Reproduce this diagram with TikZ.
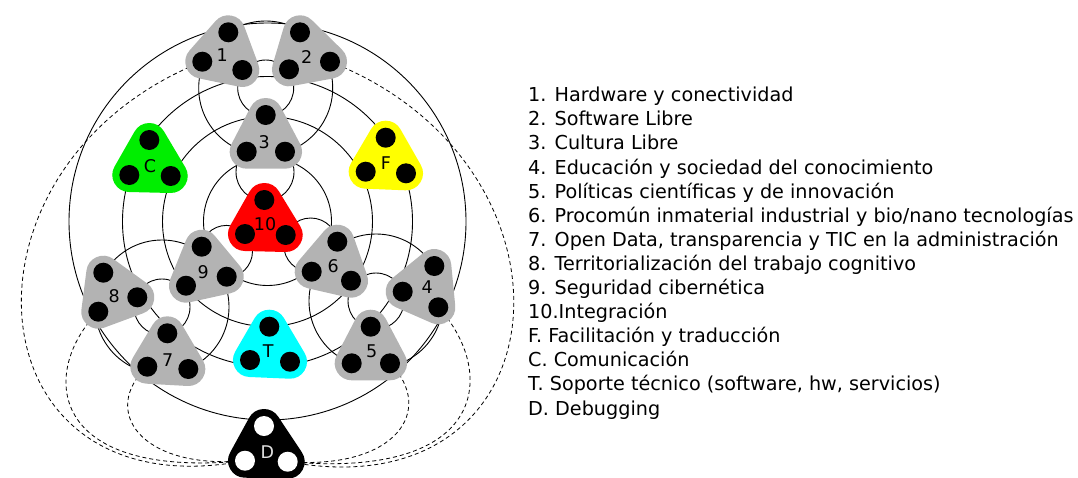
\documentclass[tikz,border=0pt]{standalone}
\usepackage{fontspec}
\setmainfont{DejaVu Sans}
\definecolor{blobgray}{RGB}{179,179,179}
\definecolor{blobgreen}{RGB}{0,238,0}
\definecolor{blobyellow}{RGB}{255,255,0}
\definecolor{blobred}{RGB}{255,0,0}
\definecolor{blobcyan}{RGB}{0,255,255}
\definecolor{palelbl}{RGB}{225,225,225}
\begin{document}
\begin{tikzpicture}[x=1pt, y=-1pt,
        ring/.style={line width=0.9},
        link/.style={line width=0.8, dash pattern=on 4pt off 3pt},
        blob/.style={line width=34, line join=round},
        lbl/.style={inner sep=0, font=\fontsize{17.5}{17.5}\selectfont},
        item/.style={anchor=base west, inner sep=0, font=\fontsize{19.2}{24}\selectfont}]
        \useasboundingbox (0,0) rectangle (1078,477);

        \coordinate (p1a) at (228.3,32.3);
        \coordinate (p1b) at (202.3,61.7);
        \coordinate (p1c) at (242.3,70);
        \coordinate (p2a) at (300,32.3);
        \coordinate (p2b) at (289,69.3);
        \coordinate (p2c) at (330,61.7);
        \coordinate (p3a) at (265.7,115);
        \coordinate (p3b) at (246.7,151.7);
        \coordinate (p3c) at (285,151.7);
        \coordinate (pCa) at (149.3,140);
        \coordinate (pCb) at (129.3,175);
        \coordinate (pCc) at (170.7,176);
        \coordinate (pFa) at (385.7,137.7);
        \coordinate (pFb) at (365.7,171.7);
        \coordinate (pFc) at (406,173.3);
        \coordinate (p10a) at (264.3,200);
        \coordinate (p10b) at (245,234);
        \coordinate (p10c) at (285.7,235);
        \coordinate (p9a) at (201.7,246.7);
        \coordinate (p9b) at (226.7,276.7);
        \coordinate (p9c) at (186,285.7);
        \coordinate (p8a) at (103.3,272.7);
        \coordinate (p8b) at (137.3,297.3);
        \coordinate (p8c) at (98.3,311.7);
        \coordinate (p7a) at (167.3,333.3);
        \coordinate (p7b) at (147.3,366.7);
        \coordinate (p7c) at (188.3,369);
        \coordinate (pTa) at (269.3,326.7);
        \coordinate (pTb) at (250,360);
        \coordinate (pTc) at (290,361.7);
        \coordinate (p6a) at (337.3,241.7);
        \coordinate (p6b) at (311.7,271.7);
        \coordinate (p6c) at (351,280.7);
        \coordinate (p4a) at (434.3,266);
        \coordinate (p4b) at (402.7,291.7);
        \coordinate (p4c) at (438.3,307.3);
        \coordinate (p5a) at (370.7,326.7);
        \coordinate (p5b) at (351.7,363.3);
        \coordinate (p5c) at (390,363.3);
        \coordinate (pDa) at (264,426);
        \coordinate (pDb) at (245,460.7);
        \coordinate (pDc) at (287.7,461.7);

        \coordinate (cmid) at (267.5,221.5);
        \coordinate (ctop) at (265.7,88);
        \coordinate (cleft) at (162,307);
        \coordinate (cright) at (376,301);
        \coordinate (c3) at (265,172);
        \coordinate (c9) at (226.5,251.4);
        \coordinate (c6) at (310.7,245);

        \draw[ring] (cmid) circle[radius=64];
        \draw[ring] (cmid) circle[radius=105];
        \draw[ring] (cmid) circle[radius=145];
        \draw[ring] (cmid) circle[radius=198.5];
        \draw[ring] (ctop) circle[radius=28];
        \draw[ring] (ctop) circle[radius=67];
        \draw[ring] (cleft) circle[radius=28];
        \draw[ring] (cleft) circle[radius=67];
        \draw[ring] (cright) circle[radius=28];
        \draw[ring] (cright) circle[radius=67];
        \draw[ring] (c3) circle[radius=29];
        \draw[ring] (c9) circle[radius=26];
        \draw[ring] (c6) circle[radius=27];

        \draw[link] (p1b) .. controls (-58,165) and (-32,514) .. (pDb);
        \draw[link] (p8c) .. controls (40,370) and (45,480) .. (pDb);
        \draw[link] (p7b) .. controls (100,410) and (140,470) .. (pDb);
        \draw[link] (p2c) .. controls (594,165) and (568,514) .. (pDc);
        \draw[link] (p4c) .. controls (496,370) and (491,480) .. (pDc);
        \draw[link] (p5c) .. controls (436,410) and (396,470) .. (pDc);

        \filldraw[blob, blobgray] (p1a) -- (p1b) -- (p1c) -- cycle;
        \filldraw[blob, blobgray] (p2a) -- (p2b) -- (p2c) -- cycle;
        \filldraw[blob, blobgray] (p3a) -- (p3b) -- (p3c) -- cycle;
        \filldraw[blob, blobgreen] (pCa) -- (pCb) -- (pCc) -- cycle;
        \filldraw[blob, blobyellow] (pFa) -- (pFb) -- (pFc) -- cycle;
        \filldraw[blob, blobred] (p10a) -- (p10b) -- (p10c) -- cycle;
        \filldraw[blob, blobgray] (p9a) -- (p9b) -- (p9c) -- cycle;
        \filldraw[blob, blobgray] (p8a) -- (p8b) -- (p8c) -- cycle;
        \filldraw[blob, blobgray] (p7a) -- (p7b) -- (p7c) -- cycle;
        \filldraw[blob, blobcyan] (pTa) -- (pTb) -- (pTc) -- cycle;
        \filldraw[blob, blobgray] (p6a) -- (p6b) -- (p6c) -- cycle;
        \filldraw[blob, blobgray] (p4a) -- (p4b) -- (p4c) -- cycle;
        \filldraw[blob, blobgray] (p5a) -- (p5b) -- (p5c) -- cycle;
        \filldraw[blob, black] (pDa) -- (pDb) -- (pDc) -- cycle;

        \fill (p1a) circle[radius=10];
        \fill (p1b) circle[radius=10];
        \fill (p1c) circle[radius=10];
        \fill (p2a) circle[radius=10];
        \fill (p2b) circle[radius=10];
        \fill (p2c) circle[radius=10];
        \fill (p3a) circle[radius=10];
        \fill (p3b) circle[radius=10];
        \fill (p3c) circle[radius=10];
        \fill (pCa) circle[radius=10];
        \fill (pCb) circle[radius=10];
        \fill (pCc) circle[radius=10];
        \fill (pFa) circle[radius=10];
        \fill (pFb) circle[radius=10];
        \fill (pFc) circle[radius=10];
        \fill (p10a) circle[radius=10];
        \fill (p10b) circle[radius=10];
        \fill (p10c) circle[radius=10];
        \fill (p9a) circle[radius=10];
        \fill (p9b) circle[radius=10];
        \fill (p9c) circle[radius=10];
        \fill (p8a) circle[radius=10];
        \fill (p8b) circle[radius=10];
        \fill (p8c) circle[radius=10];
        \fill (p7a) circle[radius=10];
        \fill (p7b) circle[radius=10];
        \fill (p7c) circle[radius=10];
        \fill (pTa) circle[radius=10];
        \fill (pTb) circle[radius=10];
        \fill (pTc) circle[radius=10];
        \fill (p6a) circle[radius=10];
        \fill (p6b) circle[radius=10];
        \fill (p6c) circle[radius=10];
        \fill (p4a) circle[radius=10];
        \fill (p4b) circle[radius=10];
        \fill (p4c) circle[radius=10];
        \fill (p5a) circle[radius=10];
        \fill (p5b) circle[radius=10];
        \fill (p5c) circle[radius=10];
        \fill[white] (pDa) circle[radius=10];
        \fill[white] (pDb) circle[radius=10];
        \fill[white] (pDc) circle[radius=10];

        \node[lbl] (l1) at (222.3,55) {1};
        \node[lbl] (l2) at (306.7,56.7) {2};
        \node[lbl] (l3) at (264.3,141.7) {3};
        \node[lbl] (lC) at (150,166) {C};
        \node[lbl] (lF) at (386,162.7) {F};
        \node[lbl] (l10) at (265,224) {10};
        \node[lbl] (l9) at (203.3,271.7) {9};
        \node[lbl] (l8) at (114.3,296) {8};
        \node[lbl] (l7) at (167.7,360) {7};
        \node[lbl] (lT) at (268.3,351) {T};
        \node[lbl] (l6) at (333.3,266) {6};
        \node[lbl] (l4) at (427.3,287.3) {4};
        \node[lbl] (l5) at (371.7,351.7) {5};
        \node[lbl, palelbl] (lD) at (267.3,451.7) {D};

        \node[item] (t1) at (528,101.7) {1. Hardware y conectividad};
        \node[item] (t2) at (528,125.8) {2. Software Libre};
        \node[item] (t3) at (528,149.9) {3. Cultura Libre};
        \node[item] (t4) at (528,174) {4. Educación y sociedad del conocimiento};
        \node[item] (t5) at (528,198.1) {5. Políticas científicas y de innovación};
        \node[item] (t6) at (528,222.2) {6. Procomún inmaterial industrial y bio/nano tecnologías};
        \node[item] (t7) at (528,246.3) {7. Open Data, transparencia y TIC en la administración};
        \node[item] (t8) at (528,270.4) {8. Territorialización del trabajo cognitivo};
        \node[item] (t9) at (528,294.5) {9. Seguridad cibernética};
        \node[item] (t10) at (528,318.6) {10.Integración};
        \node[item] (tF) at (528,342.7) {F. Facilitación y traducción};
        \node[item] (tC) at (528,366.8) {C. Comunicación};
        \node[item] (tT) at (528,390.9) {T. Soporte técnico (software, hw, servicios)};
        \node[item] (tD) at (528,415) {D. Debugging};
\end{tikzpicture}
\end{document}
